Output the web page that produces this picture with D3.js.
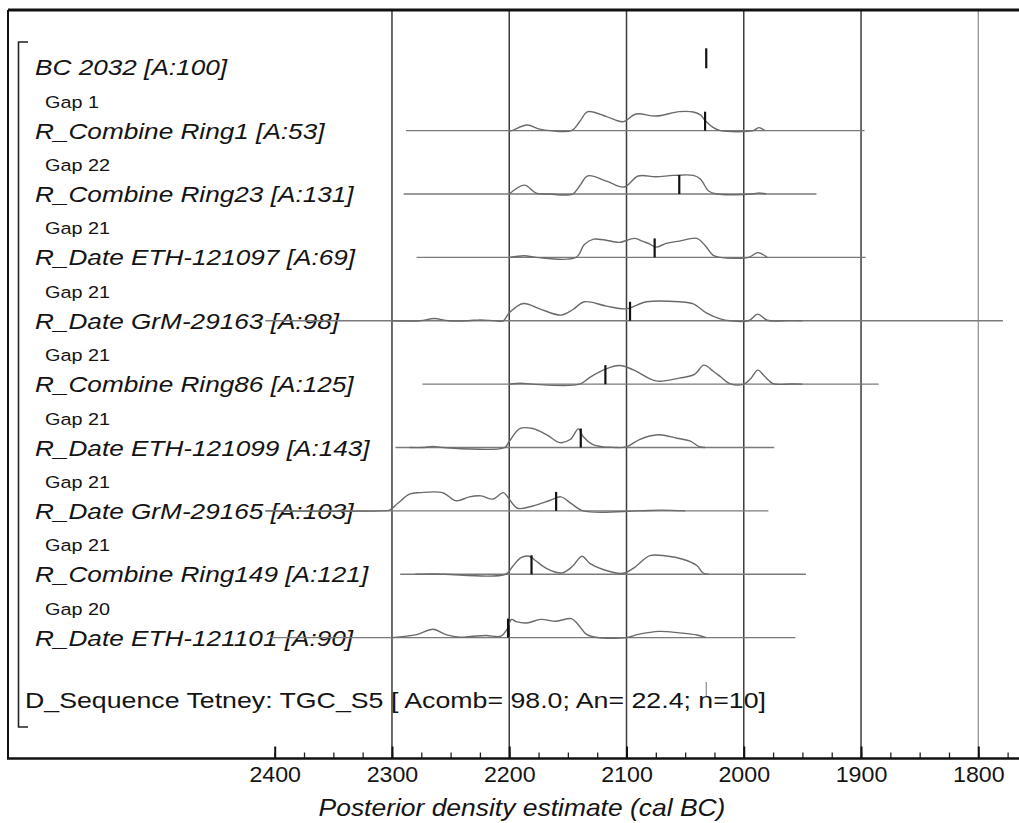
<!DOCTYPE html>
<html>
<head>
<meta charset="utf-8">
<script src="https://cdn.jsdelivr.net/npm/d3@7"></script>
<style>
  html, body { margin: 0; padding: 0; background: #fff; }
  svg { display: block; }
  text { font-family: "Liberation Sans", Arial, sans-serif; fill: #141414; }
</style>
</head>
<body>
<svg id="chart" width="1019" height="823"></svg>
<script>
// ---- Data -------------------------------------------------------------
const rowLabels = [
  "BC 2032 [A:100]",
  "R_Combine Ring1 [A:53]",
  "R_Combine Ring23 [A:131]",
  "R_Date ETH-121097 [A:69]",
  "R_Date GrM-29163 [A:98]",
  "R_Combine Ring86 [A:125]",
  "R_Date ETH-121099 [A:143]",
  "R_Date GrM-29165 [A:103]",
  "R_Combine Ring149 [A:121]",
  "R_Date ETH-121101 [A:90]"
];
const gapLabels = [null, "Gap 1", "Gap 22", "Gap 21", "Gap 21", "Gap 21", "Gap 21", "Gap 21", "Gap 21", "Gap 20"];
// median of each posterior (cal BC)
const medians = [2032, 2033, 2055, 2076, 2097, 2118, 2139, 2160, 2181, 2201];
// plotted range of each distribution (cal BC, older -> younger)
const ranges = [null, [2288, 1897], [2290, 1938], [2279, 1896], [2408, 1779],
                [2274, 1885], [2297, 1974], [2408, 1979], [2293, 1947], [2404, 1956]];

// posterior densities: [year cal BC, % of maximum]
const densRing1 = [[2200,0],[2198,0],[2185,30],[2174,8],[2165,0],[2147,0],[2140,47],[2133,100],[2117,74],
  [2103,47],[2092,88],[2075,77],[2055,100],[2043,98],[2037,83],[2033,53],[2026,16],[2020,0],[1992,0],[1987,16],[1982,0]];
const densRing23 = [[2200,0],[2187,47],[2177,5],[2166,0],[2146,0],[2140,42],[2133,96],[2117,68],[2102,37],
  [2090,95],[2075,91],[2060,98],[2043,98],[2037,79],[2030,16],[2023,0],[1993,0],[1987,6],[1981,0]];
const densEth121097 = [[2200,0],[2187,9],[2177,0],[2143,0],[2136,68],[2128,96],[2112,84],[2106,79],[2093,100],
  [2086,84],[2080,70],[2075,54],[2066,74],[2055,86],[2040,100],[2033,63],[2026,11],[2020,0],[1996,0],[1988,25],[1980,0]];
const densGrm29163 = [[2300,0],[2276,0],[2264,12],[2252,0],[2235,0],[2225,5],[2212,0],[2205,0],[2200,42],[2188,91],
  [2174,63],[2156,30],[2146,58],[2136,100],[2117,77],[2100,63],[2083,100],[2055,100],[2043,89],[2032,42],[2020,10],
  [2012,0],[1996,0],[1988,35],[1980,3],[1960,1],[1950,0]];
const densRing86 = [[2200,0],[2190,5],[2180,0],[2140,0],[2131,37],[2118,79],[2106,98],[2094,75],[2075,17],[2055,32],
  [2042,51],[2034,100],[2026,68],[2020,40],[2012,3],[2000,0],[1994,30],[1988,74],[1982,40],[1975,3],[1960,1],[1950,0]];
const densEth121099 = [[2285,0],[2274,0],[2265,6],[2256,0],[2204,0],[2200,32],[2191,100],[2180,100],[2168,67],[2157,26],
  [2148,42],[2141,98],[2137,58],[2129,16],[2120,3],[2112,1],[2100,3],[2089,42],[2073,67],[2057,49],[2046,35],[2038,5],[2033,0]];
const densGrm29165 = [[2408,0],[2310,0],[2302,4],[2295,40],[2285,88],[2276,96],[2257,96],[2245,53],[2234,74],[2224,79],
  [2214,62],[2205,96],[2201,70],[2193,14],[2180,26],[2165,56],[2156,74],[2147,38],[2137,0],[2090,0],[2070,4],[2050,0]];
const densRing149 = [[2280,0],[2268,2],[2255,0],[2203,0],[2197,42],[2190,88],[2183,95],[2178,74],[2168,30],[2155,7],
  [2146,42],[2138,95],[2131,56],[2120,25],[2103,5],[2094,32],[2080,98],[2066,96],[2052,79],[2040,46],[2035,8],[2030,0]];
const densEth121101 = [[2300,0],[2279,16],[2265,44],[2254,16],[2242,2],[2231,7],[2220,11],[2207,8],[2202,42],[2198,96],
  [2194,84],[2185,77],[2173,96],[2160,86],[2147,100],[2141,67],[2134,17],[2126,2],[2100,0],[2090,17],[2072,33],
  [2055,25],[2040,14],[2032,0]];
const densities = [null, densRing1, densRing23, densEth121097, densGrm29163, densRing86,
                   densEth121099, densGrm29165, densRing149, densEth121101];

const sequenceLabel = "D_Sequence Tetney: TGC_S5 [ Acomb= 98.0; An= 22.4; n=10]";
const majorTicks = [2400, 2300, 2200, 2100, 2000, 1900, 1800];
const gridYears = [2300, 2200, 2100, 2000, 1900, 1800];
const axisTitle = "Posterior density estimate (cal BC)";

// ---- Layout -----------------------------------------------------------
const W = 1019, H = 823;
const frameLeft = 8, frameTop = 10, axisY = 758.5;
const svg = d3.select("#chart");

const x = d3.scaleLinear().domain([2400, 1800]).range([274.7, 978.3]);
const rowY = d3.scaleLinear().domain([0, 10]).range([67.3, 701]);
const h = d3.scaleLinear().domain([0, 100]).range([0, 19]);

// text with the slightly wide letterforms of the plot
function label(sel, str, px, py, opts) {
  const g = sel.append("g").attr("transform", `translate(${px},${py})`);
  const t = g.append("text")
    .attr("transform", `scale(${opts.sx || 1.19},1)`)
    .attr("font-size", opts.size)
    .attr("font-style", opts.italic ? "italic" : "normal")
    .attr("text-anchor", opts.anchor || "start")
    .text(str);
  return t;
}

// vertical grid lines
svg.append("g").selectAll("line").data(gridYears).join("line")
  .attr("x1", d => x(d)).attr("x2", d => x(d))
  .attr("y1", frameTop).attr("y2", axisY)
  .attr("stroke", d => d === 1800 ? "#8c8c8c" : "#3c3c3c")
  .attr("stroke-width", d => d === 1800 ? 1.2 : 1.5);

// frame: top and left
svg.append("line").attr("x1", frameLeft).attr("x2", W).attr("y1", frameTop).attr("y2", frameTop)
  .attr("stroke", "#111").attr("stroke-width", 3);
svg.append("line").attr("x1", frameLeft).attr("x2", frameLeft).attr("y1", frameTop).attr("y2", axisY)
  .attr("stroke", "#111").attr("stroke-width", 2);

// sequence bracket
svg.append("path")
  .attr("d", `M28,42 H18.5 V727 H28`)
  .attr("fill", "none").attr("stroke", "#222").attr("stroke-width", 1.6);

// row labels
const rows = svg.append("g");
rowLabels.forEach((s, i) => {
  label(rows, s, 35, rowY(i) + 8, { size: 22, italic: true });
  if (gapLabels[i]) label(rows, gapLabels[i], 45, rowY(i) - 23, { size: 16.5, sx: 1.2 });
});
label(rows, sequenceLabel, 25, rowY(10) + 7, { size: 22, sx: 1.215 });

// baselines and density curves
const plots = svg.append("g");
densities.forEach((d, i) => {
  if (!d) return;
  const y0 = rowY(i);
  plots.append("line")
    .attr("x1", x(ranges[i][0])).attr("x2", x(ranges[i][1]))
    .attr("y1", y0).attr("y2", y0)
    .attr("stroke", "#7a7a7a").attr("stroke-width", 1.4);
  const line = d3.line()
    .x(p => x(p[0]))
    .y(p => Math.min(y0, y0 - h(p[1])))
    .curve(d3.curveCatmullRom.alpha(0.5));
  plots.append("path")
    .attr("d", line([...d].reverse()))
    .attr("fill", "none").attr("stroke", "#6a6a6a").attr("stroke-width", 1.4);
});

// median markers
medians.forEach((m, i) => {
  const y0 = rowY(i);
  plots.append("line")
    .attr("x1", x(m)).attr("x2", x(m))
    .attr("y1", y0 - h(100)).attr("y2", y0 + (i === 0 ? 1 : 0))
    .attr("stroke", "#111").attr("stroke-width", 2.2);
});
// marker of the boundary on the sequence row
plots.append("line")
  .attr("x1", x(medians[0])).attr("x2", x(medians[0]))
  .attr("y1", rowY(10) - 19).attr("y2", rowY(10) - 5)
  .attr("stroke", "#777").attr("stroke-width", 1);

// axis
const axisG = svg.append("g").attr("transform", `translate(0,${axisY})`);
const minorTicks = d3.range(2400, 1774, -25);
axisG.append("g")
  .call(d3.axisBottom(x).tickValues(minorTicks).tickSize(-6).tickFormat(""))
  .call(g => g.select(".domain").remove())
  .selectAll("line").attr("stroke", "#222").attr("stroke-width", 1.3);
const major = axisG.append("g")
  .call(d3.axisBottom(x).tickValues(majorTicks).tickSizeInner(-12).tickSizeOuter(0)
    .tickPadding(8).tickFormat(d3.format("d")));
major.select(".domain").remove();
major.selectAll("line").attr("stroke", "#111").attr("stroke-width", 2);
major.selectAll("text")
  .attr("font-size", 21.5)
  .attr("font-family", "Liberation Sans, Arial, sans-serif")
  .attr("fill", "#141414")
  .attr("transform", "scale(1.08,1)");
axisG.append("line").attr("x1", frameLeft - 1).attr("x2", W).attr("y1", 0).attr("y2", 0)
  .attr("stroke", "#111").attr("stroke-width", 2.6);

// axis title
label(svg, axisTitle, 522, 816, { size: 23, italic: true, anchor: "middle", sx: 1.15 });
</script>
</body>
</html>
